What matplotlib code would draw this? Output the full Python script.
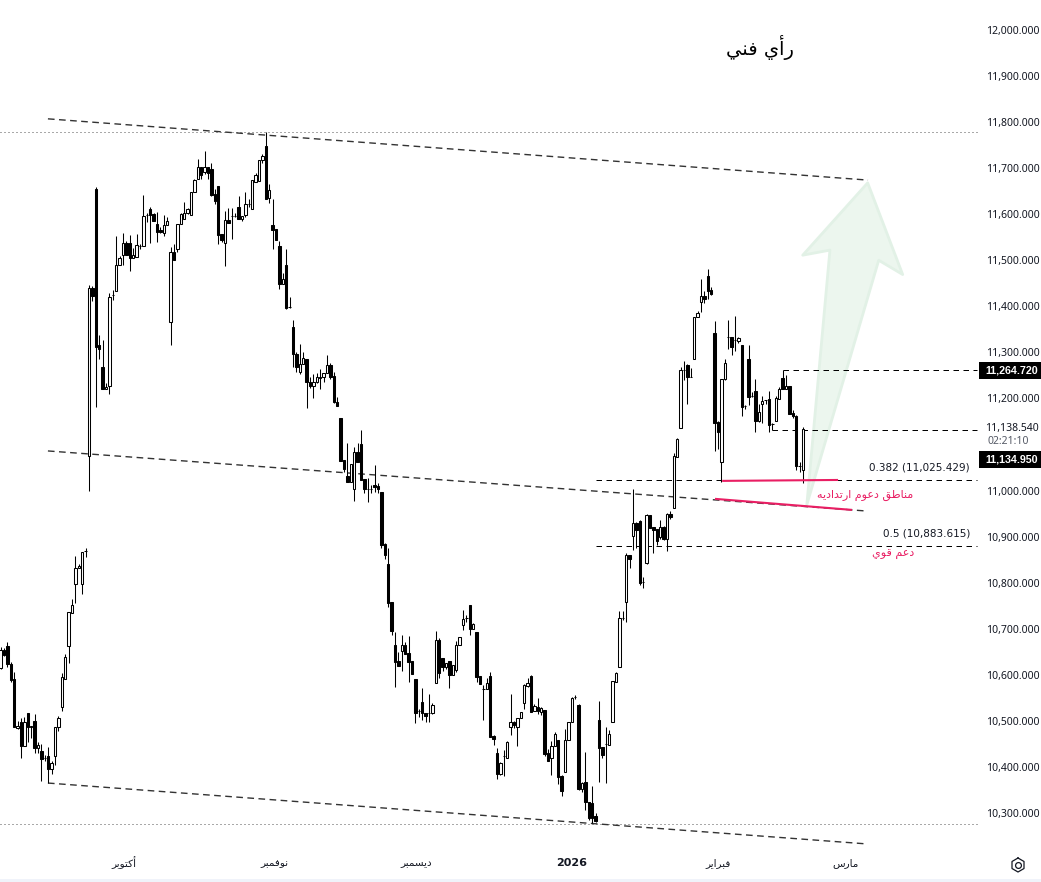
import matplotlib
matplotlib.use("Agg")
import matplotlib.pyplot as plt
from matplotlib.patches import Polygon, Rectangle

tops = [10654,10654,10663,10623,10591,10489,10498,10498,10517,10489,
10500,10448,10435,10419,10424,10409,10487,10506,10595,10639,
10736,10752,10832,10836,10867,10869,11440,11440,11655,11316,
11268,11225,11420,11425,11490,11505,11537,11537,11537,11511,
11533,11531,11596,11598,11611,11600,11579,11566,11577,11585,
11518,11518,11579,11600,11603,11611,11648,11674,11702,11702,
11702,11702,11698,11644,11661,11557,11587,11587,11596,11596,
11616,11596,11622,11622,11674,11685,11718,11726,11748,11653,
11577,11568,11531,11459,11490,11399,11355,11296,11275,11288,
11286,11236,11236,11247,11247,11255,11273,11273,11249,11192,
11158,11066,11032,11058,11084,11084,11101,11025,11003,11003,
11012,11010,10997,10884,10841,10758,10665,10630,10665,10665,
10647,10630,10591,10521,10541,10517,10517,10534,10676,10676,
10636,10626,10630,10621,10665,10682,10721,10723,10752,10710,
10693,10597,10569,10582,10597,10467,10430,10409,10424,10454,
10498,10498,10506,10519,10578,10582,10597,10532,10530,10528,
10524,10430,10445,10471,10458,10380,10458,10498,10550,10552,
10534,10365,10367,10324,10322,10293,10502,10443,10450,10471,
10587,10604,10723,10723,10860,10860,10930,10930,10934,10801,
10947,10947,10921,10917,10921,10921,10949,10949,11075,11112,
11262,11262,11273,11247,11377,11385,11422,11422,11466,11435,
11342,11149,11242,11277,11333,11333,11327,11331,11316,11184,
11286,11205,11216,11171,11194,11197,11199,11144,11201,11220,
11244,11227,11227,11168,11162,11053,11134]

bottoms = [10615,10643,10623,10589,10487,10485,10445,10445,10487,10487,
10441,10441,10417,10419,10395,10395,10424,10487,10530,10591,
10663,10734,10797,10832,10797,10869,11075,11422,11312,11307,
11220,11220,11227,11425,11433,11490,11511,11511,11505,11505,
11507,11531,11531,11598,11598,11585,11561,11561,11559,11577,
11366,11501,11524,11579,11590,11603,11598,11648,11676,11685,
11692,11689,11642,11629,11555,11544,11537,11581,11596,11596,
11590,11590,11598,11622,11611,11670,11672,11718,11633,11635,
11566,11544,11448,11448,11396,11399,11296,11268,11257,11275,
11236,11227,11227,11236,11244,11247,11255,11247,11192,11184,
11064,11047,11019,11019,11003,11062,11023,11003,11003,11003,
11008,11003,10882,10860,10756,10695,10628,10619,10652,10645,
10628,10602,10517,10521,10517,10510,10517,10517,10582,10604,
10617,10617,10600,10600,10610,10665,10708,10723,10699,10699,
10595,10580,10569,10569,10465,10461,10385,10385,10424,10419,
10487,10491,10487,10506,10539,10576,10519,10521,10521,10519,
10428,10413,10419,10445,10378,10348,10389,10458,10498,10552,
10352,10352,10324,10289,10289,10283,10441,10426,10450,10448,
10498,10584,10617,10723,10758,10851,10901,10914,10799,10801,
10843,10919,10914,10890,10899,10895,10895,10943,10962,11073,
11136,11262,11247,11247,11286,11377,11409,11416,11433,11427,
11147,11127,11062,11242,11333,11312,11327,11325,11181,11184,
11203,11205,11151,11151,11188,11197,11142,11144,11151,11199,
11220,11220,11166,11162,11053,11053,11045]

highs = [10660,10658,10671,10628,10606,10500,10506,10508,10517,10489,
10515,10454,10450,10426,10443,10413,10487,10510,10604,10645,
10736,10765,10858,10841,10867,10875,11446,11444,11659,11338,
11327,11233,11429,11435,11553,11509,11559,11542,11555,11527,
11557,11535,11642,11603,11616,11603,11605,11572,11598,11594,
11529,11535,11579,11603,11626,11613,11648,11676,11720,11702,
11737,11702,11711,11655,11661,11557,11607,11613,11613,11603,
11640,11596,11648,11633,11674,11689,11718,11731,11778,11666,
11633,11568,11542,11472,11524,11420,11370,11301,11318,11301,
11286,11247,11253,11255,11264,11255,11294,11277,11257,11203,
11158,11066,11103,11058,11095,11103,11131,11025,11027,11012,
11055,11016,10997,10886,10875,10758,10693,10650,10686,10671,
10684,10630,10591,10526,10571,10517,10558,10539,10695,10680,
10636,10626,10630,10621,10673,10682,10741,10730,10752,10712,
10693,10597,10578,10593,10606,10469,10441,10411,10437,10456,
10558,10500,10506,10519,10580,10593,10600,10537,10550,10530,
10524,10439,10456,10476,10458,10382,10482,10498,10552,10556,
10537,10367,10432,10324,10359,10300,10543,10443,10487,10480,
10587,10606,10739,10739,10864,10860,11003,10932,10936,10812,
10949,10947,10921,10917,10936,10923,10951,10956,11082,11114,
11268,11281,11275,11266,11377,11390,11459,11433,11481,11442,
11368,11151,11242,11286,11370,11333,11379,11333,11316,11186,
11316,11214,11242,11188,11205,11197,11216,11147,11205,11225,
11262,11251,11227,11175,11164,11062,11138]

lows = [10613,10641,10617,10584,10487,10482,10419,10445,10454,10463,
10430,10430,10369,10413,10365,10385,10404,10478,10521,10591,
10626,10734,10756,10832,10775,10856,10999,11412,11181,11286,
11220,11220,11210,11414,11433,11490,11490,11511,11477,11505,
11507,11524,11531,11583,11537,11585,11540,11559,11553,11577,
11316,11501,11518,11579,11590,11600,11598,11648,11676,11676,
11687,11676,11640,11622,11535,11540,11488,11581,11546,11594,
11590,11585,11594,11616,11611,11670,11672,11711,11633,11624,
11524,11544,11438,11448,11394,11396,11268,11257,11253,11275,
11179,11223,11201,11233,11220,11236,11255,11242,11190,11184,
11064,11040,11019,11019,10977,11062,11023,10995,10975,10995,
10997,10995,10875,10851,10747,10686,10573,10619,10608,10645,
10584,10602,10495,10508,10502,10498,10498,10515,10582,10593,
10608,10613,10571,10600,10606,10665,10697,10715,10686,10699,
10584,10580,10502,10569,10465,10448,10374,10382,10380,10419,
10469,10485,10445,10506,10526,10573,10519,10521,10515,10513,
10424,10413,10382,10445,10363,10337,10389,10458,10498,10547,
10350,10346,10306,10285,10278,10280,10367,10419,10365,10448,
10498,10584,10617,10719,10715,10832,10871,10875,10795,10788,
10841,10919,10864,10882,10895,10893,10869,10938,10962,11073,
11136,11240,11188,11247,11286,11377,11388,11407,11416,11425,
11086,11090,11019,11240,11307,11294,11303,11320,11162,11177,
11186,11203,11127,11149,11147,11188,11127,11131,11151,11199,
11220,11220,11166,11158,11045,11040,11016]

sides = ("wbbbbwbwbw" "bwbdbwwwww" "wwwwwdwbbb" "bwwdwwwbbw" "wdwdbbbbww"
         "wbwwwwwwwb" "wbbbbbwbdd" "bwwdwwwwbw" "bbbwbdbbww" "bbwwwwwbbb"
         "bbbwwbbbdd" "bbbbbbbbwb" "bbbdbbdwwb" "bwbwwwwdbw" "bbdwbbbwdw"
         "wbwwwwbwbw" "bbwwbbwwwd" "bwbbbbbbdw" "wwwdwbwbbd" "wbbbwbwbww"
         "wdbdwwwbbb" "bbwwdbdwbd" "bdbwwdbdww" "bwbbbdw")

price_ticks = [12000,11900,11800,11700,11600,11500,11400,11300,11200,11000,10900,10800,10700,10600,10500,10400,10300]
month_pos = [36.3, 80.4, 122.2, 168.0, 211.0, 248.6]
month_names = ["أكتوبر", "نوفمبر", "ديسمبر", "2026", "فبراير", "مارس"]

channel_top = ([13.9, 255.1], [11807, 11674])
channel_mid = ([13.9, 253.9], [11086, 10956])
channel_low = ([13.9, 254.5], [10365, 10233])
dotted_levels = [11778, 10277]
dash_levels = [(230.0, 11262), (227.0, 11131.5), (175.1, 11022), (175.1, 10879)]
pink_upper = ([212.2, 246.3], [11021, 11023])
pink_lower = ([210.1, 250.4], [10982, 10958])
arrow_x = [255.0, 265.3, 258.25, 237.1, 243.9, 235.9]
arrow_y = [11668, 11469, 11500, 10969, 11522, 11511]

# ---- small Arabic shaper: matplotlib draws no joined or right-to-left text itself
FORMS = {"ا":(0xFE8D,0xFE8E),"أ":(0xFE83,0xFE84),"د":(0xFEA9,0xFEAA),"ر":(0xFEAD,0xFEAE),"و":(0xFEED,0xFEEE),
         "ب":(0xFE8F,0xFE90,0xFE91,0xFE92),"ت":(0xFE95,0xFE96,0xFE97,0xFE98),"س":(0xFEB1,0xFEB2,0xFEB3,0xFEB4),
         "ط":(0xFEC1,0xFEC2,0xFEC3,0xFEC4),"ع":(0xFEC9,0xFECA,0xFECB,0xFECC),"ف":(0xFED1,0xFED2,0xFED3,0xFED4),
         "ق":(0xFED5,0xFED6,0xFED7,0xFED8),"ك":(0xFED9,0xFEDA,0xFEDB,0xFEDC),"م":(0xFEE1,0xFEE2,0xFEE3,0xFEE4),
         "ن":(0xFEE5,0xFEE6,0xFEE7,0xFEE8),"ه":(0xFEE9,0xFEEA,0xFEEB,0xFEEC),"ي":(0xFEF1,0xFEF2,0xFEF3,0xFEF4)}
def ar(s):
    if s.isascii():
        return s
    out = []
    for i, ch in enumerate(s):
        if ch not in FORMS:
            out.append(ch); continue
        prev = s[i-1] if i else " "
        nxt = s[i+1] if i+1 < len(s) else " "
        join_prev = prev in FORMS and len(FORMS[prev]) == 4
        join_next = nxt in FORMS and len(FORMS[ch]) == 4
        f = FORMS[ch]
        if join_prev and join_next: c = f[3]
        elif join_prev: c = f[1]
        elif join_next: c = f[2]
        else: c = f[0]
        out.append(chr(c))
    return "".join(reversed(out))

W, H = 1041, 882
AX_R, AX_B = 978, 848
fig = plt.figure(figsize=(W/100, H/100), dpi=100, facecolor="white")
ax = fig.add_axes([0, (H-AX_B)/H, AX_R/W, AX_B/H])
ax.set_xlim(-0.197, 287.45)
ax.set_ylim(10224, 12065)
for s in ax.spines.values():
    s.set_visible(False)

INK = "#131722"
ax.add_patch(Polygon(list(zip(arrow_x, arrow_y)), closed=True, facecolor="#ecf6ee", edgecolor="#e2f1e6",
                     linewidth=2, joinstyle="round", zorder=1))

for lv in dotted_levels:
    ax.axhline(lv, color="#555555", lw=0.72, ls=(0, (1, 3)), zorder=2)
for xs, ys in (channel_top, channel_mid, channel_low):
    ax.plot(xs, ys, color="#333333", lw=1.0, ls=(0, (4.8, 3.2)), zorder=2)
for x0, lv in dash_levels:
    ax.plot([x0, 287.2], [lv, lv], color="#000000", lw=0.72, ls=(0, (5.5, 4.5)), zorder=2)

xs = list(range(len(tops)))
ax.vlines(xs, lows, highs, color="black", lw=0.75, zorder=3)
faces = ["white" if k == "w" else "black" for k in sides]
heights = [t-b for t, b in zip(tops, bottoms)]
ax.bar(xs, heights, bottom=bottoms, width=0.72, color=faces, edgecolor="black", linewidth=0.75, zorder=4)

for xs_, ys_ in (pink_upper, pink_lower):
    ax.plot(xs_, ys_, color="#e91e63", lw=1.5, zorder=5, solid_capstyle="butt")

ax.yaxis.tick_right()
ax.set_yticks(price_ticks)
ax.set_yticklabels([f"{v:,.3f}" for v in price_ticks], fontsize=7.5, color=INK, family="Noto Sans")
ax.tick_params(axis="y", length=0, pad=5.6)
ax.set_xticks(month_pos)
ax.set_xticklabels([ar(m) for m in month_names], fontsize=7.5, color=INK, va="center")
ax.tick_params(axis="x", length=0, pad=10.8)
ax.get_xticklabels()[3].set_fontweight("bold")
ax.get_xticklabels()[3].set_fontsize(8)

# overlay in pixel space for the annotations and price-scale boxes
ov = fig.add_axes([0, 0, 1, 1], facecolor="none")
ov.set_xlim(0, W); ov.set_ylim(H, 0); ov.axis("off")
ov.text(760, 47, ar("رأي فني"), fontsize=14, ha="center", va="center", color="#000000")
ov.text(970, 467, "0.382 (11,025.429)", fontsize=7.5, ha="right", va="center", color=INK)
ov.text(970, 534, "0.5 (10,883.615)", fontsize=7.5, ha="right", va="center", color=INK)
ov.text(913, 495, ar("مناطق دعوم ارتداديه"), fontsize=8, ha="right", va="center", color="#e91e63")
ov.text(914, 555, ar("دعم قوي"), fontsize=8, ha="right", va="center", color="#e91e63")
ov.add_patch(Rectangle((979, 362), 62, 17, facecolor="#000000", edgecolor="none"))
ov.add_patch(Rectangle((979, 451), 62, 17, facecolor="#000000", edgecolor="none"))
ov.text(985, 370.5, "11,264.720", fontsize=7.7, color="white", fontweight="bold", va="center",
        family="Liberation Sans")
ov.text(985, 459.5, "11,134.950", fontsize=7.7, color="white", fontweight="bold", va="center",
        family="Liberation Sans")
ov.text(985, 428, "11,138.540", fontsize=7.5, color=INK, va="center", family="Noto Sans")
ov.text(987, 441, "02:21:10", fontsize=7.5, color="#555a66", va="center", family="Noto Sans")
ov.add_patch(Rectangle((0, 879), W, 3, facecolor="#f0f3fa", edgecolor="none"))
ov.plot([1018, 1024, 1024, 1018, 1012, 1012, 1018], [858, 861.5, 868.5, 872, 868.5, 861.5, 858], color=INK, lw=0.9)
ov.plot([1018], [865], marker="o", ms=4.2, mfc="none", mec=INK, mew=0.9)

fig.savefig("out.png", dpi=100, facecolor="white")
assert len(tops) == len(bottoms) == len(highs) == len(lows) == len(sides)
